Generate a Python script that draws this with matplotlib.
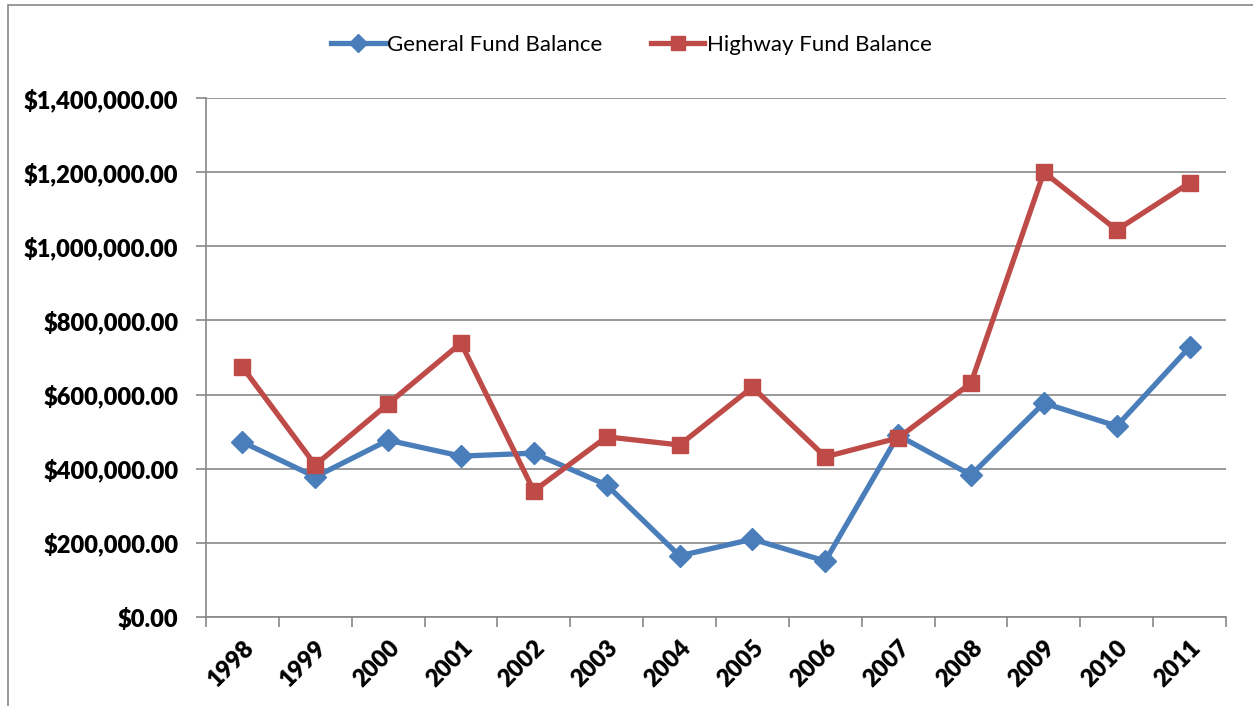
import matplotlib.pyplot as plt
from matplotlib.patches import Rectangle
from matplotlib.ticker import FuncFormatter, FixedLocator

years = ["1998", "1999", "2000", "2001", "2002", "2003", "2004",
         "2005", "2006", "2007", "2008", "2009", "2010", "2011"]
general_fund = [472000, 378000, 477000, 434000, 442000, 356000, 165000,
                210000, 151000, 490000, 383000, 577000, 515000, 728000]
highway_fund = [674000, 410000, 575000, 739000, 340000, 486000, 464000,
                620000, 432000, 483000, 631000, 1200000, 1044000, 1171000]

plt.rcParams["font.family"] = ["Lato", "DejaVu Sans"]

fig = plt.figure(figsize=(12.53, 7.06), dpi=100)
ax = fig.add_axes([206 / 1253, 1 - 617 / 706, (1226 - 206) / 1253, (617 - 98) / 706])

# chart area border (Excel style)
fig.patches.append(Rectangle((8 / 1253, -0.01), 1.1, 1 - 5 / 706 + 0.01,
                             transform=fig.transFigure, fill=False,
                             edgecolor="#888888", linewidth=1.2))

x = list(range(len(years)))
ax.plot(x, general_fund, color="#4A7EBB", linewidth=3.8, marker="D",
        markersize=11, label="General Fund Balance", zorder=3)
ax.plot(x, highway_fund, color="#BE4B48", linewidth=3.8, marker="s",
        markersize=12, label="Highway Fund Balance", zorder=3)

ax.set_xlim(-0.5, len(years) - 0.5)
ax.set_ylim(0, 1400000)
ax.set_yticks(range(0, 1400001, 200000))
ax.yaxis.set_major_formatter(FuncFormatter(lambda v, p: f"${v:,.2f}"))
ax.grid(axis="y", color="#888888", linewidth=1.2)
ax.set_axisbelow(True)

ax.set_xticks(x)
ax.set_xticklabels(years, rotation=45, ha="right", rotation_mode="anchor")
ax.xaxis.set_minor_locator(FixedLocator([i - 0.5 for i in range(len(years) + 1)]))
ax.tick_params(axis="x", which="major", length=0, pad=14)
ax.tick_params(axis="x", which="minor", length=7, color="#888888", width=1.2)
ax.tick_params(axis="y", length=7, color="#888888", width=1.2, pad=13)
for lbl in ax.get_xticklabels() + ax.get_yticklabels():
    lbl.set_fontsize(17)
    lbl.set_fontweight("heavy")

for s in ["top", "right"]:
    ax.spines[s].set_visible(False)
for s in ["left", "bottom"]:
    ax.spines[s].set_color("#888888")
    ax.spines[s].set_linewidth(1.2)

ax.legend(loc="center", bbox_to_anchor=(0.417, 1.102), ncol=2,
          frameon=False, fontsize=16, handlelength=2.4, columnspacing=2.2,
          handletextpad=0.1, markerscale=0.8)

fig.savefig("out.png", dpi=100)
